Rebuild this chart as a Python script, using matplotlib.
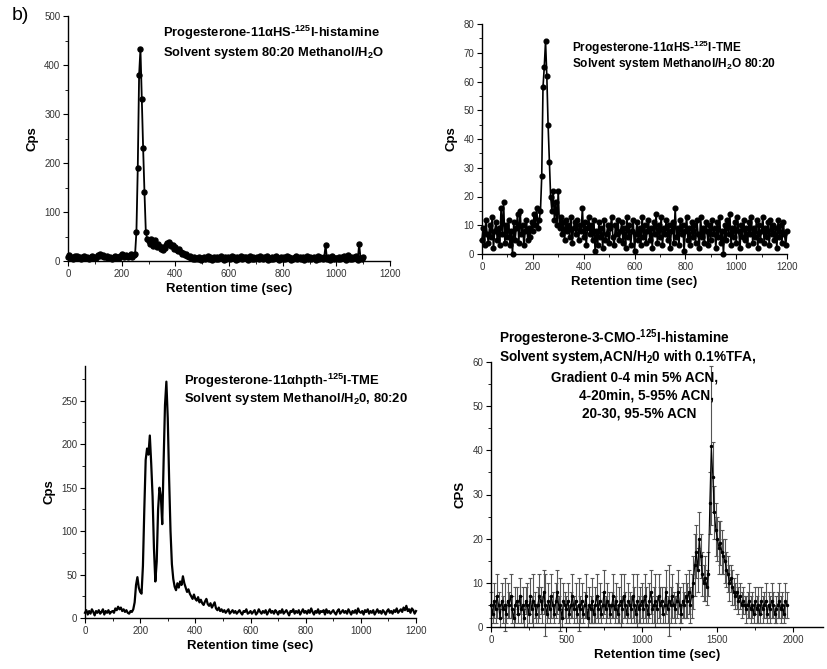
import matplotlib
matplotlib.use("Agg")
import matplotlib.pyplot as plt
import numpy as np
from matplotlib.ticker import MultipleLocator

plt.rcParams['font.family'] = ['Liberation Sans', 'DejaVu Sans']
plt.rcParams['mathtext.fontset'] = 'custom'
plt.rcParams['mathtext.rm'] = 'Liberation Sans:bold'
plt.rcParams['mathtext.bf'] = 'Liberation Sans:bold'
plt.rcParams['mathtext.it'] = 'Liberation Sans:bold:italic'

# ---- panel 1: Progesterone-11aHS-125I-histamine (sampled every 5 s)
t1 = np.arange(0, 1101, 5)
cps1 = [
    8, 12, 6, 9, 5, 11, 7, 10, 6, 9,
    5, 8, 10, 6, 9, 7, 5, 8, 11, 6,
    9, 7, 12, 10, 14, 11, 13, 9, 8, 10,
    6, 9, 7, 5, 8, 10, 7, 9, 6, 11,
    15, 12, 9, 13, 10, 8, 11, 14, 9, 12,
    14, 60, 190, 380, 433, 330, 230, 140, 60, 45,
    40, 35, 45, 30, 38, 42, 28, 35, 30, 25,
    28, 22, 26, 32, 36, 38, 35, 30, 33, 25,
    28, 22, 20, 24, 18, 15, 17, 12, 14, 10,
    8, 11, 6, 5, 9, 4, 7, 5, 8, 3,
    6, 9, 4, 7, 10, 5, 8, 3, 6, 9,
    5, 8, 4, 7, 10, 6, 3, 8, 5, 9,
    7, 4, 10, 6, 8, 3, 9, 5, 7, 11,
    4, 8, 6, 9, 3, 7, 10, 5, 8, 4,
    6, 9, 5, 11, 7, 4, 8, 6, 10, 3,
    7, 5, 9, 4, 8, 10, 6, 3, 7, 9,
    5, 8, 4, 10, 6, 9, 3, 7, 5, 8,
    11, 4, 7, 9, 5, 8, 3, 6, 10, 5,
    8, 4, 7, 9, 6, 3, 10, 5, 8, 6,
    4, 9, 32, 5, 8, 3, 6, 10, 4, 7,
    7, 5, 9, 4, 8, 6, 10, 3, 7, 12,
    5, 8, 4, 9, 6, 10, 3, 35, 7, 5,
    8,
]

# ---- panel 2: Progesterone-11aHS-125I-TME
t2 = np.arange(0, 1201, 5)
cps2 = [
    5, 9, 3, 12, 7, 4, 10, 6, 13, 2,
    8, 11, 5, 9, 3, 16, 7, 18, 4, 10,
    6, 12, 3, 8, 0, 11, 5, 9, 14, 4,
    15, 7, 10, 3, 8, 12, 5, 9, 6, 11,
    8, 14, 10, 16, 9, 12, 15, 27, 58, 65,
    74, 62, 45, 32, 20, 15, 22, 12, 18, 10,
    22, 9, 13, 7, 11, 5, 12, 8, 10, 6,
    13, 4, 9, 11, 7, 12, 5, 10, 8, 16,
    6, 11, 3, 9, 13, 7, 10, 5, 12, 1,
    8, 3, 11, 6, 9, 2, 12, 5, 7, 10,
    4, 9, 13, 6, 3, 10, 7, 12, 5, 8,
    11, 4, 9, 2, 13, 6, 10, 3, 8, 12,
    1, 7, 11, 5, 9, 3, 13, 6, 10, 4,
    8, 12, 5, 9, 2, 11, 7, 14, 4, 10,
    6, 13, 3, 9, 7, 12, 5, 10, 2, 8,
    11, 4, 16, 6, 9, 3, 12, 7, 10, 1,
    8, 13, 5, 9, 3, 11, 6, 10, 4, 12,
    7, 2, 13, 6, 9, 4, 11, 8, 3, 10,
    5, 12, 7, 9, 2, 11, 6, 13, 4, 8,
    0, 10, 5, 12, 7, 14, 3, 9, 6, 11,
    4, 13, 8, 2, 10, 6, 12, 5, 9, 3,
    11, 7, 13, 4, 9, 6, 12, 2, 10, 5,
    8, 13, 4, 9, 6, 11, 3, 12, 7, 10,
    5, 9, 2, 12, 6, 10, 4, 11, 7, 3,
    8,
]

# ---- panel 3: Progesterone-11ahpth-125I-TME
t3 = np.arange(0, 1201, 5)
cps3 = [
    6, 9, 4, 8, 5, 10, 7, 3, 8, 6,
    9, 5, 7, 10, 4, 8, 6, 9, 5, 7,
    8, 6, 11, 9, 13, 10, 12, 8, 10, 7,
    9, 6, 5, 8, 7, 10, 18, 38, 47, 35,
    30, 28, 60, 125, 182, 195, 188, 210, 178, 140,
    80, 42, 65, 125, 150, 140, 108, 180, 245, 272,
    230, 160, 100, 62, 45, 36, 32, 40, 35, 42,
    38, 48, 40, 35, 30, 33, 28, 25, 22, 27,
    22, 20, 24, 18, 21, 17, 15, 19, 22, 16,
    14, 17, 12, 15, 18, 11, 9, 12, 8, 10,
    7, 9, 6, 8, 10, 5, 7, 9, 6, 8,
    5, 7, 9, 6, 4, 8, 7, 10, 5, 6,
    8, 5, 7, 9, 4, 6, 10, 7, 5, 8,
    6, 9, 4, 7, 10, 6, 8, 5, 9, 7,
    4, 8, 6, 10, 5, 7, 9, 6, 3, 8,
    7, 10, 5, 8, 6, 9, 4, 7, 10, 6,
    8, 5, 9, 6, 11, 7, 4, 8, 6, 10,
    5, 8, 7, 9, 4, 10, 6, 8, 5, 7,
    9, 6, 4, 8, 10, 5, 7, 9, 6, 8,
    5, 10, 7, 4, 8, 6, 9, 5, 11, 7,
    6, 8, 4, 9, 7, 10, 5, 8, 6, 9,
    4, 7, 10, 6, 8, 5, 9, 7, 4, 8,
    10, 6, 8, 5, 9, 7, 11, 6, 8, 10,
    7, 12, 9, 14, 8, 10, 6, 11, 9, 5,
    8,
]

# ---- panel 4: Progesterone-3-CMO-125I-histamine (with error bars)
t4 = np.arange(0, 1961, 10)
cps4 = [
    5, 3, 6, 4, 7, 5, 2, 6, 4, 5,
    3, 6, 5, 7, 4, 2, 5, 6, 3, 7,
    4, 5, 2, 6, 5, 3, 7, 4, 6, 5,
    3, 5, 7, 6, 4, 8, 5, 3, 6, 4,
    7, 5, 3, 6, 8, 4, 5, 2, 6, 5,
    4, 6, 3, 5, 7, 4, 6, 3, 5, 4,
    6, 3, 5, 7, 2, 5, 4, 6, 3, 5,
    7, 4, 6, 3, 5, 8, 4, 6, 5, 3,
    5, 7, 4, 6, 3, 5, 6, 4, 7, 5,
    3, 6, 5, 4, 7, 5, 3, 6, 4, 5,
    6, 4, 7, 5, 3, 6, 8, 4, 5, 6,
    4, 7, 5, 6, 3, 5, 8, 4, 6, 5,
    7, 5, 4, 6, 8, 5, 3, 6, 5, 7,
    6, 8, 5, 7, 10, 14, 17, 13, 20, 16,
    12, 10, 11, 9, 12, 28, 41, 34, 26, 22,
    20, 18, 19, 17, 16, 15, 13, 12, 10, 11,
    9, 8, 7, 8, 6, 7, 5, 6, 5, 4,
    5, 6, 4, 5, 3, 6, 4, 5, 3, 6,
    4, 5, 6, 3, 5, 4, 6, 5, 3, 4,
    5, 6, 4, 5, 3, 6, 5,
]
err4 = [
    3, 2, 4, 3, 5, 3, 2, 4, 3, 6,
    2, 4, 3, 5, 3, 2, 4, 3, 2, 4,
    3, 4, 2, 3, 5, 2, 4, 3, 6, 3,
    2, 4, 5, 3, 3, 5, 7, 2, 4, 3,
    5, 3, 2, 4, 5, 3, 6, 2, 4, 3,
    3, 4, 2, 3, 5, 3, 4, 2, 6, 3,
    4, 2, 3, 5, 2, 4, 3, 5, 2, 4,
    5, 3, 4, 2, 3, 5, 3, 4, 3, 2,
    3, 5, 3, 4, 2, 4, 6, 3, 5, 3,
    2, 4, 3, 3, 5, 4, 2, 6, 3, 4,
    4, 3, 5, 4, 2, 4, 5, 3, 4, 6,
    3, 5, 4, 3, 2, 4, 5, 3, 8, 4,
    5, 3, 3, 4, 5, 4, 2, 4, 3, 5,
    4, 5, 4, 5, 6, 7, 6, 5, 6, 5,
    5, 4, 5, 4, 5, 7, 18, 8, 6, 6,
    5, 6, 5, 5, 4, 5, 4, 4, 4, 3,
    4, 3, 3, 4, 3, 3, 3, 3, 2, 3,
    3, 4, 3, 3, 2, 3, 3, 4, 2, 3,
    3, 3, 4, 2, 3, 3, 4, 3, 2, 3,
    3, 4, 3, 3, 2, 4, 3,
]

W, H = 828, 669
fig = plt.figure(figsize=(W / 100, H / 100), dpi=100)


def px_axes(left, top, right, bottom):
    return fig.add_axes([left / W, 1 - bottom / H, (right - left) / W, (bottom - top) / H])


def px_text(x, y, s, size=9, weight='bold', ha='left'):
    fig.text(x / W, 1 - y / H, s, fontsize=size, fontweight=weight, ha=ha, va='center')


def style(ax, xlim, ylim, xmaj, xmin, ymaj, ymin, ylabel):
    ax.set_xlim(*xlim)
    ax.set_ylim(*ylim)
    ax.xaxis.set_major_locator(MultipleLocator(xmaj))
    ax.xaxis.set_minor_locator(MultipleLocator(xmin))
    ax.yaxis.set_major_locator(MultipleLocator(ymaj))
    ax.yaxis.set_minor_locator(MultipleLocator(ymin))
    for s in ['top', 'right']:
        ax.spines[s].set_visible(False)
    for s in ['left', 'bottom']:
        ax.spines[s].set_linewidth(1.0)
    ax.tick_params(which='major', direction='out', length=3.5, width=0.8, labelsize=7,
                   labelcolor='#333333', pad=2)
    ax.tick_params(which='minor', direction='out', length=2, width=0.6)
    ax.set_xlabel('Retention time (sec)', fontsize=9.5, fontweight='bold', labelpad=3)
    ax.set_ylabel(ylabel, fontsize=9.5, fontweight='bold', labelpad=4)
    ax.patch.set_alpha(0)


# panel 1
ax1 = px_axes(68, 16, 390, 261)
ax1.plot(t1, cps1, color='black', lw=1.3, marker='o', ms=3.6, clip_on=False)
style(ax1, (0, 1200), (0, 500), 200, 100, 100, 50, 'Cps')
px_text(163, 33, r'Progesterone-11αHS-$^{\rm 125}$I-histamine', size=9.3)
px_text(163, 53, r'Solvent system 80:20 Methanol/H$_{\rm 2}$O', size=9.3)

# panel 2
ax2 = px_axes(482, 24, 787, 254)
ax2.plot(t2, cps2, color='black', lw=1.2, marker='o', ms=3.4, clip_on=False)
style(ax2, (0, 1200), (0, 80), 200, 100, 10, 5, 'Cps')
px_text(572, 48, r'Progesterone-11αHS-$^{\rm 125}$I-TME', size=8.6)
px_text(572, 64, r'Solvent system Methanol/H$_{\rm 2}$O 80:20', size=8.6)

# panel 3
ax3 = px_axes(85, 366, 416, 618)
ax3.plot(t3, cps3, color='black', lw=1.6, clip_on=False)
style(ax3, (0, 1200), (0, 290), 200, 100, 50, 25, 'Cps')
px_text(184, 381, r'Progesterone-11αhpth-$^{\rm 125}$I-TME', size=9.4)
px_text(184, 399, r'Solvent system Methanol/H$_{\rm 2}$0, 80:20', size=9.4)

# panel 4
ax4 = px_axes(491, 362, 823, 627)
ax4.errorbar(t4, cps4, yerr=err4, fmt='-', color='black', lw=0.8, marker='.', ms=3,
             ecolor='#555555', elinewidth=0.8, capsize=1.2, capthick=0.8, clip_on=False)
style(ax4, (0, 2200), (0, 60), 500, 250, 10, 5, 'CPS')
px_text(499, 338, r'Progesterone-3-CMO-$^{\rm 125}$I-histamine', size=9.8)
px_text(499, 357, r'Solvent system,ACN/H$_{\rm 2}$0 with 0.1%TFA,', size=9.8)
px_text(551, 377, 'Gradient 0-4 min 5% ACN,', size=9.8)
px_text(579, 395, '4-20min, 5-95% ACN,', size=9.8)
px_text(582, 414, '20-30, 95-5% ACN', size=9.8)

px_text(12, 16, 'b)', size=14, weight='normal')

fig.savefig('out.png', dpi=100)
